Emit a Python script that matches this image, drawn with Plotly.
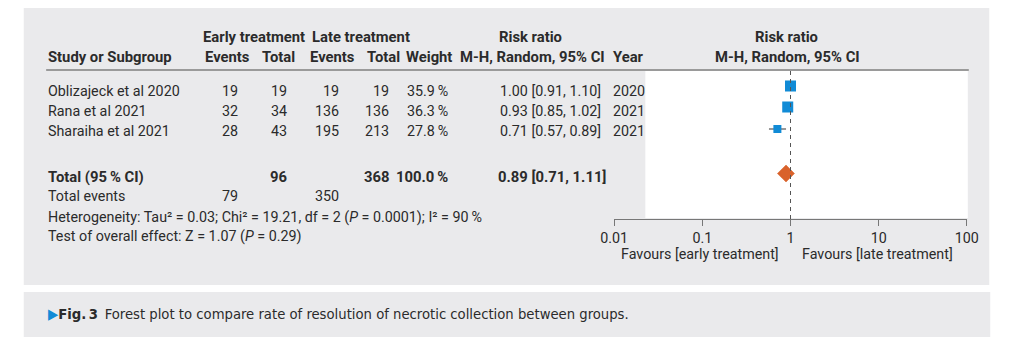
import plotly.graph_objects as go

# ---------------- data ----------------
studies = ["Oblizajeck et al 2020", "Rana et al 2021", "Sharaiha et al 2021"]
early_events = [19, 32, 28]
early_total = [19, 34, 43]
late_events = [19, 136, 195]
late_total = [19, 136, 213]
weights = [35.9, 36.3, 27.8]
rr = [1.00, 0.93, 0.71]
ci_low = [0.91, 0.85, 0.57]
ci_high = [1.10, 1.02, 0.89]
years = [2020, 2021, 2021]

total_early = 96
total_late = 368
total_weight = 100.0
total_rr = 0.89
total_low = 0.71
total_high = 1.11
total_events_early = 79
total_events_late = 350

heterogeneity = "Heterogeneity: Tau² = 0.03; Chi² = 19.21, df = 2 (<i>P</i> = 0.0001); I² = 90\u2009%"
overall = "Test of overall effect: Z = 1.07 (<i>P</i> = 0.29)"

tick_vals = [0.01, 0.1, 1, 10, 100]
tick_text = ["0.01", "0.1", "1", "10", "100"]

# ---------------- style / layout ----------------
W, H = 1011, 353
FONT = "Roboto, 'Noto Sans', sans-serif"
FS = 14.3
FSB = 14.8
TXT = "#2b2b2b"
PANEL = "#eaeaec"
BLUE = "#118bd6"
ORANGE = "#d9622b"

row_y = [91, 111, 131]
marker_y = [86, 107, 129]
marker_size = [11, 11, 8]
total_y = 177
diamond_y = 173.5
diamond_half = 8.5


def px(x):
    return x / W


def py(y):
    return 1 - y / H


fig = go.Figure()

# CI whiskers
for lo, hi, y in zip(ci_low, ci_high, marker_y):
    fig.add_trace(go.Scatter(x=[lo, hi], y=[y, y], mode="lines",
                             line=dict(color="#333333", width=1),
                             hoverinfo="skip", showlegend=False))
# squares
fig.add_trace(go.Scatter(x=rr, y=marker_y, mode="markers",
                         marker=dict(symbol="square", size=marker_size, color=BLUE,
                                     opacity=1, line=dict(width=0)),
                         showlegend=False))
# diamond
fig.add_trace(go.Scatter(x=[total_low, total_rr, total_high, total_rr, total_low],
                         y=[diamond_y, diamond_y - diamond_half, diamond_y,
                            diamond_y + diamond_half, diamond_y],
                         mode="lines", fill="toself", fillcolor=ORANGE,
                         line=dict(color=ORANGE, width=0.5),
                         showlegend=False))


def prect(x0, x1, y0, y1, color):
    return dict(type="rect", xref="paper", yref="paper", x0=px(x0), x1=px(x1),
                y0=py(y1), y1=py(y0), fillcolor=color, line=dict(width=0), layer="below")


shapes = [
    prect(10, 1001, 8, 285, PANEL),
    prect(10, 1002, 292, 337, PANEL),
    prect(648, 979, 71, 218, "white"),
    dict(type="line", xref="paper", yref="paper", x0=px(33), x1=px(980),
         y0=py(70), y1=py(70), line=dict(color="#9a9a9a", width=2)),
    dict(type="line", xref="x", yref="y", x0=1, x1=1, y0=71, y1=219,
         line=dict(color="#555555", width=1, dash="4px,4px")),
]
fig.update_layout(shapes=shapes)

ann = []


def t(x, y, text, anchor="left", bold=False, size=None, color=TXT, font=FONT):
    if size is None:
        size = FSB if bold else FS
    if bold:
        text = "<b>" + text + "</b>"
    ann.append(dict(x=px(x), y=py(y), xref="paper", yref="paper", text=text,
                    showarrow=False, xanchor=anchor, yanchor="middle",
                    font=dict(family=font, size=size, color=color)))


# headers
t(246.5, 37, "Early treatment", "center", True)
t(356, 37, "Late treatment", "center", True)
t(530, 37, "Risk ratio", "center", True)
t(793, 37, "Risk ratio", "center", True)
t(33, 57, "Study or Subgroup", "left", True)
t(244, 57, "Events", "right", True)
t(290, 57, "Total", "right", True)
t(352, 57, "Events", "right", True)
t(398, 57, "Total", "right", True)
t(452, 57, "Weight", "right", True)
t(456, 57, "M-H, Random, 95% CI", "left", True)
t(613, 57, "Year", "left", True)
t(794, 57, "M-H, Random, 95% CI", "center", True)

for i, y in enumerate(row_y):
    t(33, y, studies[i])
    t(232, y, str(early_events[i]), "right")
    t(282, y, str(early_total[i]), "right")
    t(336, y, str(late_events[i]), "right")
    t(387, y, str(late_total[i]), "right")
    t(448, y, f"{weights[i]:.1f}\u2009%", "right")
    t(497, y, f"{rr[i]:.2f} [{ci_low[i]:.2f}, {ci_high[i]:.2f}]")
    t(613, y, str(years[i]))

t(33, total_y, "Total (95\u2009% CI)", bold=True)
t(282, total_y, str(total_early), "right", True)
t(387, total_y, str(total_late), "right", True)
t(448, total_y, f"{total_weight:.1f}\u2009%", "right", True)
t(495, total_y, f"{total_rr:.2f} [{total_low:.2f}, {total_high:.2f}]", "left", True)

t(33, 196, "Total events")
t(232, 196, str(total_events_early), "right")
t(336, 196, str(total_events_late), "right")
t(33, 217, heterogeneity)
t(33, 236, overall)

t(787, 254, "Favours [early treatment]", "right")
t(807, 254, "Favours [late treatment]", "left")

CAP_FONT = "'Liberation Sans Narrow', 'DejaVu Sans Condensed', 'Roboto Condensed', sans-serif"
t(33, 313, f"<span style='color:{BLUE}'>\u25B6</span><b>Fig.\u20093</b>\u2002Forest plot to compare rate of resolution of necrotic collection between groups.",
  "left", False, 14.7, TXT, CAP_FONT)

fig.update_layout(annotations=ann)

fig.update_layout(
    width=W, height=H, autosize=False,
    margin=dict(l=0, r=0, t=0, b=0, pad=0),
    paper_bgcolor="white", plot_bgcolor="rgba(0,0,0,0)",
    showlegend=False,
    xaxis=dict(type="log", range=[-2, 2], domain=[616 / W, 978 / W],
               anchor="free", position=1 - 219 / H,
               showline=True, linecolor="#777777", linewidth=1,
               ticks="outside", ticklen=6, tickcolor="#777777", tickwidth=1,
               tickvals=tick_vals, ticktext=tick_text,
               tickfont=dict(family=FONT, size=FS, color=TXT),
               showgrid=False, zeroline=False),
    yaxis=dict(range=[H, 0], domain=[0, 1], visible=False, showgrid=False,
               zeroline=False),
)

fig.write_html("out.html")
